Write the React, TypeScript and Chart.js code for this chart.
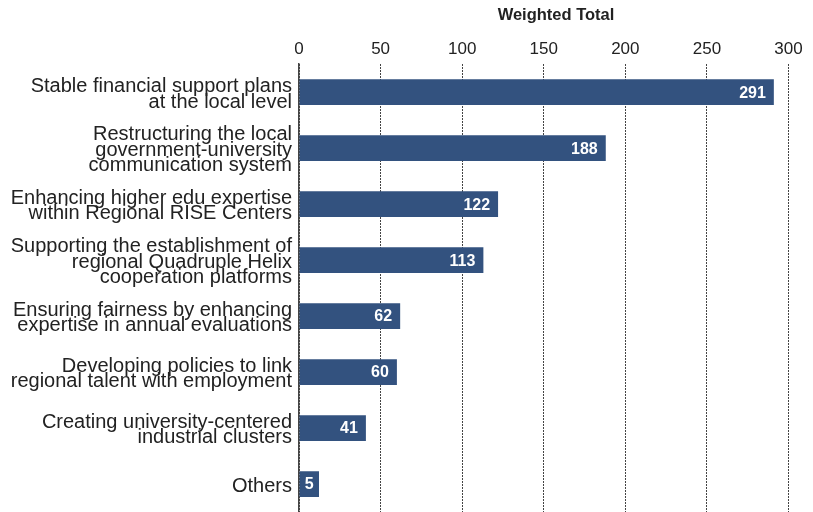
import React, { useEffect, useRef } from "react";
import { Chart, registerables } from "chart.js";

Chart.register(...registerables);

const categories: (string | string[])[] = [
  ["Stable financial support plans", "at the local level"],
  ["Restructuring the local", "government-university", "communication system"],
  ["Enhancing higher edu expertise", "within Regional RISE Centers"],
  ["Supporting the establishment of", "regional Quadruple Helix", "cooperation platforms"],
  ["Ensuring fairness by enhancing", "expertise in annual evaluations"],
  ["Developing policies to link", "regional talent with employment"],
  ["Creating university-centered", "industrial clusters"],
  "Others",
];
const weightedTotals = [291, 188, 122, 113, 62, 60, 41, 5];
const axisTitle = "Weighted Total";
const xTicks = [0, 50, 100, 150, 200, 250, 300];
const xMin = 0;
const xMax = 315;

const FONT = "'Liberation Sans', Arial, Helvetica, sans-serif";
const BAR_COLOR = "#33527f";

const valueLabels = {
  id: "valueLabels",
  afterDatasetsDraw(chart: any) {
    const ctx = chart.ctx;
    const meta = chart.getDatasetMeta(0);
    ctx.save();
    ctx.font = `bold 16px ${FONT}`;
    ctx.fillStyle = "#ffffff";
    ctx.textBaseline = "middle";
    meta.data.forEach((bar: any, i: number) => {
      const text = String(chart.data.datasets[0].data[i]);
      const w = ctx.measureText(text).width;
      const left = bar.base;
      const right = bar.x;
      const pad = 8;
      if (right - left >= w + 2 * pad) {
        ctx.textAlign = "right";
        ctx.fillText(text, right - pad, bar.y + 1);
      } else {
        ctx.textAlign = "center";
        ctx.fillText(text, (left + right) / 2, bar.y + 1);
      }
    });
    ctx.restore();
  },
};

export default function App() {
  const ref = useRef<HTMLCanvasElement>(null);
  useEffect(() => {
    document.body.style.margin = "0";
    const chart = new Chart(ref.current!, {
      type: "bar",
      data: {
        labels: categories,
        datasets: [
          {
            data: weightedTotals,
            backgroundColor: BAR_COLOR,
            barPercentage: 0.46,
            categoryPercentage: 1,
            minBarLength: 20,
          },
        ],
      },
      options: {
        indexAxis: "y",
        animation: false,
        responsive: false,
        layout: { padding: { top: 0, right: 0, bottom: 0, left: 0 } },
        plugins: {
          legend: { display: false },
          tooltip: { enabled: false },
        },
        scales: {
          x: {
            position: "top",
            min: xMin,
            max: xMax,
            afterBuildTicks: (axis: any) => {
              axis.ticks = xTicks.map((v) => ({ value: v }));
            },
            ticks: {
              color: "#222",
              font: { family: FONT, size: 17 },
              padding: 5,
            },
            grid: {
              color: "#444",
              lineWidth: 1,
              drawTicks: false,
            },
            border: { display: false, dash: [2, 1] },
            title: {
              display: true,
              text: axisTitle,
              color: "#222",
              font: { family: FONT, size: 16.5, weight: "bold" },
              padding: { top: 6, bottom: 8 },
            },
          },
          y: {
            afterFit: (s: any) => {
              s.width = 299;
              s.paddingTop = 0;
              s.paddingBottom = 0;
            },
            ticks: {
              color: "#222",
              font: { family: FONT, size: 20, lineHeight: 0.78 },
              padding: 7,
              labelOffset: 2,
            },
            grid: { display: false, drawTicks: false },
            border: { display: true, color: "#444", width: 1.5 },
          },
        },
      },
      plugins: [valueLabels],
    });
    return () => chart.destroy();
  }, []);
  return <canvas ref={ref} width={813} height={512} style={{ display: "block" }} />;
}
